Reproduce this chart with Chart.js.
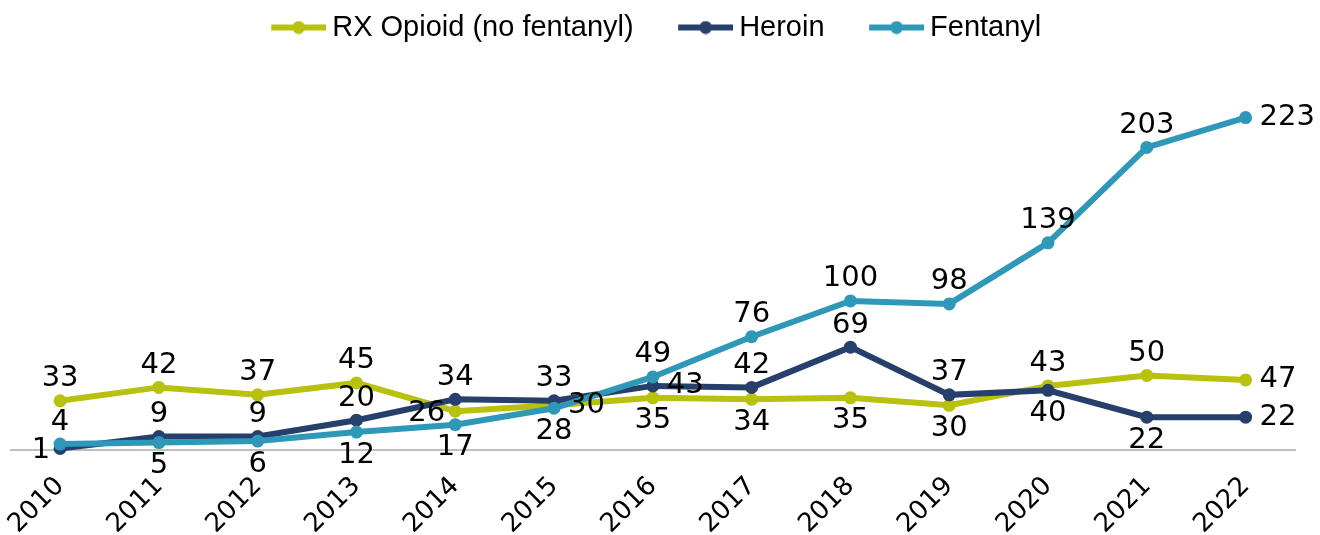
<!DOCTYPE html>
<html>
<head>
<meta charset="utf-8">
<title>Opioid deaths by drug type</title>
<script src="https://cdn.jsdelivr.net/npm/chart.js@4.4.1/dist/chart.umd.min.js"></script>
<style>
    html, body { margin: 0; padding: 0; background: #ffffff; }
    #wrap { width: 1320px; height: 535px; }
</style>
</head>
<body>
<div id="wrap"><canvas id="opioidChart"></canvas></div>
<script>
// ============================================
// DATA
// ============================================
var years = ['2010', '2011', '2012', '2013', '2014', '2015', '2016', '2017', '2018', '2019', '2020', '2021', '2022'];
var rxOpioid = [33, 42, 37, 45, 26, 30, 35, 34, 35, 30, 43, 50, 47];
var heroin = [1, 9, 9, 20, 34, 33, 43, 42, 69, 37, 40, 22, 22];
var fentanyl = [4, 5, 6, 12, 17, 28, 49, 76, 100, 98, 139, 203, 223];

// where each value label sits next to its point (t = top, b = bottom, l = left, r = right)
var labelPos = [
    ['t', 't', 't', 't', 'l', 'r', 'b', 'b', 'b', 'b', 't', 't', 'r'],
    ['l', 't', 't', 't', 't', 't', 'r', 't', 't', 't', 'b', 'b', 'r'],
    ['t', 'b', 'b', 'b', 'b', 'b', 't', 't', 't', 't', 't', 't', 'r']
];

var colRx = '#b8c20e';
var colHeroin = '#263f6b';
var colFent = '#2f98b8';
var legendFont = "'Liberation Sans', Arial, sans-serif";
var numberFont = "'DejaVu Sans', sans-serif";

// Legend icon: line with a dot, shifted right inside the box
function makeLegendIcon(color) {
    var c = document.createElement('canvas');
    c.width = 95;
    c.height = 14;
    var g = c.getContext('2d');
    g.strokeStyle = color;
    g.lineWidth = 6;
    g.beginPath();
    g.moveTo(40, 7);
    g.lineTo(95, 7);
    g.stroke();
    g.fillStyle = color;
    g.beginPath();
    g.arc(67.5, 7, 6.5, 0, Math.PI * 2);
    g.fill();
    return c;
}
var legendIcons = [makeLegendIcon(colRx), makeLegendIcon(colHeroin), makeLegendIcon(colFent)];

// Value labels next to the points
var valueLabels = {
    id: 'valueLabels',
    afterLayout: function (chart) {
        // nudge the legend a bit to the left, like the original
        if (chart.legend) {
            chart.legend.left -= 11;
            chart.legend.right -= 11;
        }
    },
    afterDatasetsDraw: function (chart) {
        var ctx = chart.ctx;
        ctx.save();
        ctx.font = '29px ' + numberFont;
        ctx.fillStyle = '#000000';
        ctx.textBaseline = 'middle';
        chart.data.datasets.forEach(function (ds, i) {
            var meta = chart.getDatasetMeta(i);
            meta.data.forEach(function (pt, j) {
                var pos = labelPos[i][j];
                var x = pt.x, y = pt.y;
                if (pos === 't') {
                    ctx.textAlign = 'center';
                    y -= 22;
                } else if (pos === 'b') {
                    ctx.textAlign = 'center';
                    y += 23;
                } else if (pos === 'l') {
                    ctx.textAlign = 'right';
                    x -= 10;
                    y += 2;
                } else {
                    ctx.textAlign = 'left';
                    x += 14;
                }
                ctx.fillText(String(ds.data[j]), x, y);
            });
        });
        ctx.restore();
    }
};

function lineSet(label, data, color, order) {
    return {
        label: label,
        data: data,
        borderColor: color,
        backgroundColor: color,
        borderWidth: 6,
        pointRadius: 6.5,
        pointBorderWidth: 0,
        pointBackgroundColor: color,
        tension: 0,
        order: order,
        clip: false
    };
}

document.addEventListener('DOMContentLoaded', function () {
    var ctx = document.getElementById('opioidChart').getContext('2d');
    new Chart(ctx, {
        type: 'line',
        data: {
            labels: years,
            datasets: [
                lineSet('RX Opioid (no fentanyl)', rxOpioid, colRx, 3),
                lineSet('Heroin', heroin, colHeroin, 2),
                lineSet('Fentanyl', fentanyl, colFent, 1)
            ]
        },
        options: {
            responsive: true,
            maintainAspectRatio: false,
            animation: false,
            layout: {padding: {left: 8, right: 25, top: 0, bottom: 0}},
            plugins: {
                legend: {
                    position: 'top',
                    labels: {
                        usePointStyle: true,
                        pointStyleWidth: 78,
                        padding: 13,
                        color: '#000000',
                        font: {size: 29, family: legendFont},
                        sort: function (a, b) { return a.datasetIndex - b.datasetIndex; },
                        generateLabels: function (chart) {
                            var items = Chart.defaults.plugins.legend.labels.generateLabels(chart);
                            items.forEach(function (it) {
                                it.pointStyle = legendIcons[it.datasetIndex];
                            });
                            return items;
                        }
                    }
                },
                tooltip: {enabled: false}
            },
            scales: {
                x: {
                    offset: true,
                    grid: {display: false},
                    border: {display: true, color: '#bfbfbf', width: 2},
                    ticks: {
                        color: '#000000',
                        font: {size: 26, family: numberFont},
                        minRotation: 45,
                        maxRotation: 45,
                        padding: 13
                    },
                    afterFit: function (scale) {
                        scale.height = 85;
                    }
                },
                y: {
                    display: false,
                    min: 0,
                    max: 267
                }
            }
        },
        plugins: [valueLabels]
    });
});
</script>
</body>
</html>
